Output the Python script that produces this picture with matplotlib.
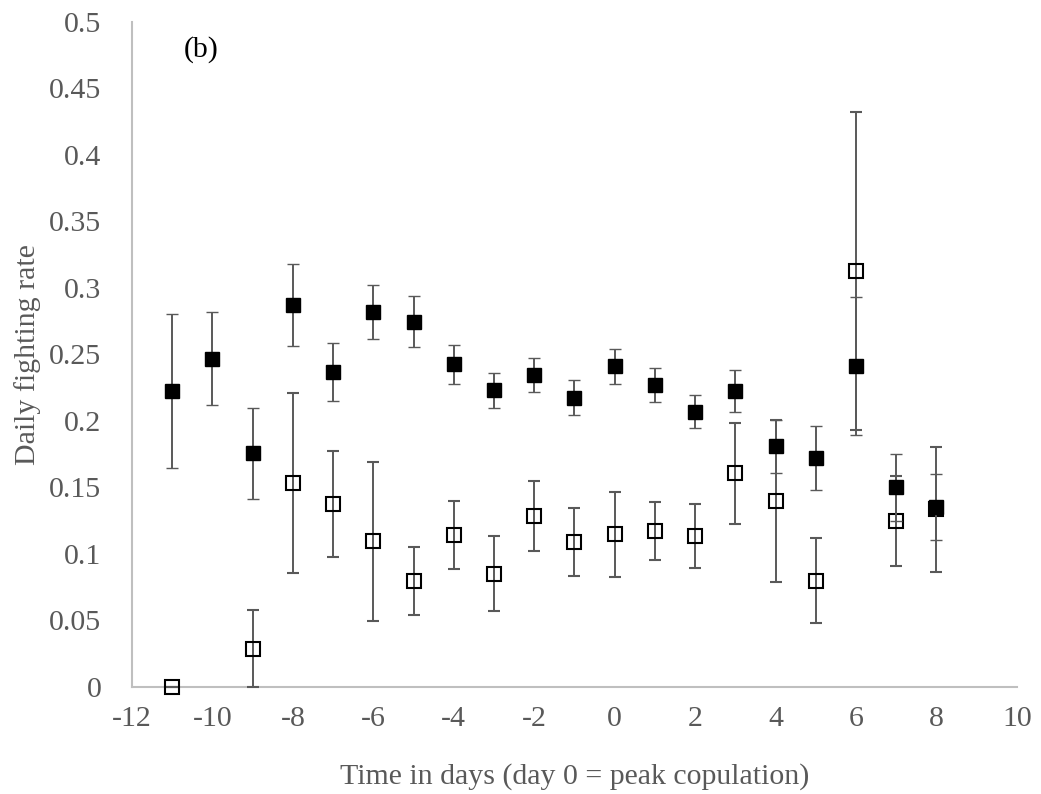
import matplotlib
matplotlib.use("Agg")
import matplotlib.pyplot as plt

# filled squares series
days_filled = [-11, -10, -9, -8, -7, -6, -5, -4, -3, -2, -1, 0, 1, 2, 3, 4, 5, 6, 7, 8]
rate_filled = [0.2226, 0.2469, 0.1757, 0.2872, 0.2368, 0.282, 0.2747, 0.2426, 0.2231, 0.2346,
               0.2175, 0.2411, 0.2271, 0.207, 0.2228, 0.181, 0.1722, 0.2414, 0.150, 0.1355]
err_filled = [0.058, 0.035, 0.034, 0.0305, 0.0217, 0.0205, 0.019, 0.0147, 0.013, 0.0125,
              0.0133, 0.0133, 0.0127, 0.0123, 0.0157, 0.020, 0.0242, 0.052, 0.025, 0.025]

# open squares series
days_open = [-11, -9, -8, -7, -6, -5, -4, -3, -2, -1, 0, 1, 2, 3, 4, 5, 6, 7, 8]
rate_open = [0.0, 0.0288, 0.1536, 0.1378, 0.1095, 0.0797, 0.1145, 0.085, 0.1286, 0.109,
             0.1148, 0.1173, 0.1133, 0.1607, 0.1398, 0.080, 0.3128, 0.125, 0.1335]
err_open = [0.0, 0.0287, 0.0678, 0.040, 0.0598, 0.0253, 0.0257, 0.0282, 0.0263, 0.0252,
            0.0319, 0.022, 0.0242, 0.0379, 0.061, 0.0317, 0.1195, 0.034, 0.047]

xticks = list(range(-12, 11, 2))
yticks = [0, 0.05, 0.1, 0.15, 0.2, 0.25, 0.3, 0.35, 0.4, 0.45, 0.5]
ytick_labels = ["0", "0.05", "0.1", "0.15", "0.2", "0.25", "0.3", "0.35", "0.4", "0.45", "0.5"]

plt.rcParams['font.family'] = ['Liberation Serif', 'DejaVu Serif']
gray = "#595959"
fs = 21.5

fig = plt.figure(figsize=(10.41, 7.94), dpi=100)
ax = fig.add_axes([0.1268, 0.1348, 0.850, 0.8375])

eb_open = ax.errorbar(days_open, rate_open, yerr=err_open, fmt="s", ms=9.5, mfc="none", mec="black",
                      mew=1.5, ecolor=gray, elinewidth=1.4, capsize=4.5, capthick=1.4, zorder=3)
eb_fill = ax.errorbar(days_filled, rate_filled, yerr=err_filled, fmt="s", ms=10, mfc="black",
                      mec="black", mew=1, ecolor=gray, elinewidth=1.4, capsize=4.5, capthick=1.4,
                      zorder=4)
for eb in (eb_open, eb_fill):
    for art in eb.get_children():
        art.set_clip_on(False)

ax.set_xlim(-12, 10)
ax.set_ylim(0, 0.5)
ax.set_xticks(xticks)
ax.set_xticklabels([str(t) for t in xticks])
ax.set_yticks(yticks)
ax.set_yticklabels(ytick_labels)
ax.tick_params(length=0, labelsize=fs, colors=gray)
ax.tick_params(axis="y", pad=22)
ax.tick_params(axis="x", pad=14)

for s in ["top", "right"]:
    ax.spines[s].set_visible(False)
for s in ["left", "bottom"]:
    ax.spines[s].set_color("#bfbfbf")
    ax.spines[s].set_linewidth(1.5)

ax.set_ylabel("Daily fighting rate", fontsize=fs, color=gray, labelpad=6)
ax.set_xlabel("Time in days (day 0 = peak copulation)", fontsize=fs, color=gray, labelpad=22)
ax.text(0.058, 0.958, "(b)", transform=ax.transAxes, fontsize=fs, color="black",
        ha="left", va="center")

fig.savefig("out.png", dpi=100)
